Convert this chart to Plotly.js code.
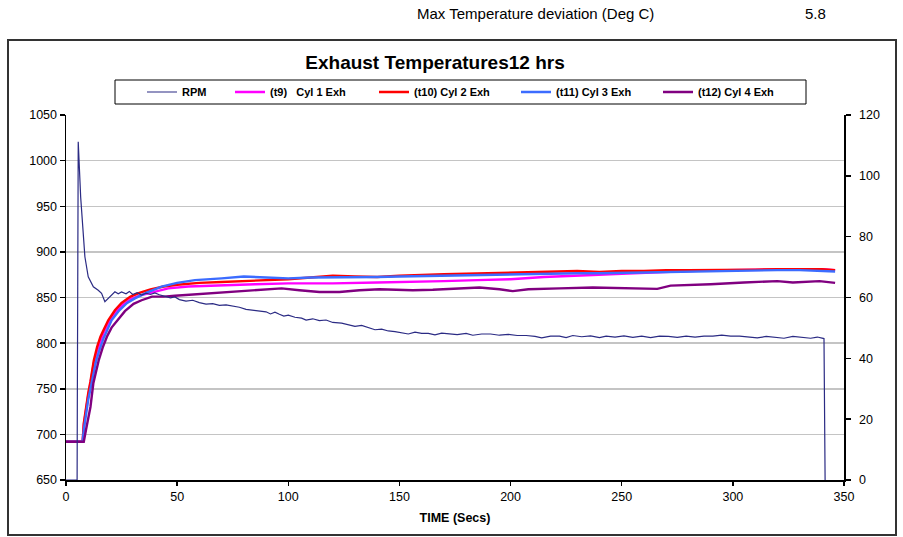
<!DOCTYPE html>
<html>
<head>
<meta charset="utf-8">
<script src="https://cdn.plot.ly/plotly-3.0.1.min.js"></script>
<style>
  html, body { margin: 0; padding: 0; background: #fff; }
  #chart { width: 903px; height: 537px; }
</style>
</head>
<body>
<div id="chart"></div>
<script>
// Engine speed (right axis, 0-120 scale)
const timeRpm = [0, 5, 5.1, 5.5, 6.6, 7.5, 8.5, 10, 12.3, 14.5, 16, 17.5, 19.8, 22, 23.5, 25, 27, 28.5, 30, 32, 34, 36, 38, 40, 42, 44, 47, 49, 51, 54, 57, 60, 63, 66, 69, 72, 75, 78, 81,
  84, 87, 90, 92, 94, 96, 98, 100, 103, 106, 108, 111, 114, 117, 120, 124, 127, 130, 133, 136, 139, 142, 145, 148, 151, 154, 157, 160, 163, 166, 169, 172, 176, 180, 183, 187, 191, 195, 199, 203, 207, 211, 214, 218,
  222, 225, 228, 232, 236, 240, 243, 247, 251, 255, 259, 263, 267, 271, 275, 279, 283, 287, 291, 295, 299, 303, 307, 311, 315, 319, 323, 327, 331, 335, 338, 341, 341.5];
const rpm = [0, 0, 27, 111.2, 93, 82.2, 73.4, 66.8, 63.5, 62.4, 61.4, 58.6, 60.3, 61.9, 61.2, 61.8, 61.2, 62.0, 61.0, 61.6, 60.8, 61.4, 61.0, 61.5, 60.9, 60.4, 59.9, 60.2, 59.3, 58.8, 59.1, 58.3, 57.8, 58.0, 57.4, 57.6, 57.2, 56.8, 56.1,
  55.8, 55.5, 55.3, 54.6, 55.2, 54.5, 53.9, 54.2, 53.5, 53.2, 52.6, 53.0, 52.4, 52.6, 51.8, 51.6, 51.0, 50.5, 50.8, 50.0, 49.4, 49.6, 49.0, 48.8, 48.4, 48.0, 48.6, 48.2, 48.2, 47.7, 48.3, 48.0, 47.8, 48.2, 47.6, 48.0, 48.0, 47.6, 47.9, 47.5, 47.5, 47.2, 46.7, 47.3,
  47.3, 46.8, 47.5, 47.1, 47.4, 46.8, 47.3, 47.0, 47.4, 46.9, 47.3, 46.8, 47.3, 47.2, 46.9, 47.3, 47.0, 47.3, 47.3, 47.6, 47.3, 47.3, 47.0, 46.7, 47.2, 47.0, 46.6, 47.2, 46.8, 46.6, 47.0, 46.5, 0];

// (t9) Cyl 1 exhaust temperature
const timeCyl1 = [0, 7.5, 8, 9, 10, 11, 12.5, 14, 15.5, 17, 19, 22, 25, 29, 33, 38, 46, 55, 65, 73, 85, 100, 120, 140, 160, 170, 185, 200, 215, 227, 237, 250, 267, 280, 297, 310, 327, 340, 346];
const cyl1 = [692, 692, 710, 728, 743, 756, 778, 792, 803, 812, 822, 833, 841, 848, 852, 855, 860, 862, 863, 864, 864.5, 865.5, 865.5, 866.5, 867, 868, 869, 870, 872.5, 874, 874.7, 876, 878, 879, 880, 880.5, 881, 881, 880];

// (t10) Cyl 2 exhaust temperature
const timeCyl2 = [0, 7.5, 8, 9, 10, 11, 12.5, 14, 15.5, 17, 19, 22, 25, 29, 33, 38, 44, 50, 60, 70, 80, 90, 100, 110, 120, 130, 140, 150, 160, 170, 180, 190, 200, 210, 220, 230, 240, 250, 260, 270, 280, 290, 300, 310, 320, 330, 340, 346];
const cyl2 = [692, 692, 712, 730, 745, 758, 781, 796, 807, 815, 825, 836, 844, 851, 855, 859, 862, 864, 866, 867, 868, 869, 870, 872, 874, 873, 872.5, 874, 875, 875.5, 876, 876.5, 877.5, 878, 878.5, 879, 878, 879, 879, 880, 880, 880, 880, 880.5, 881, 881, 881, 880];

// (t11) Cyl 3 exhaust temperature
const timeCyl3 = [0, 7.5, 8, 9, 10, 11, 12, 13.5, 15, 17, 20.5, 24, 27.5, 31, 36, 43, 50, 58, 70, 80, 90, 100, 110, 120, 130, 140, 150, 160, 170, 180, 190, 200, 210, 220, 230, 240, 250, 260, 270, 280, 290, 300, 310, 320, 330, 340, 346];
const cyl3 = [692, 692, 705, 722, 738, 750, 762, 780, 792, 806, 825, 836, 844, 849, 855, 862, 866, 869, 871, 873, 872, 871, 872, 872, 872, 872.5, 873, 873.5, 874, 874.5, 875, 875.5, 876, 876.5, 876.5, 876.5, 877, 877.5, 878, 878.5, 879, 879.5, 879.5, 880, 880, 879.5, 878.5];

// (t12) Cyl 4 exhaust temperature
const timeCyl4 = [0, 8, 9, 10, 11, 12.3, 13.5, 14.7, 16.5, 18.4, 20.5, 23, 26.5, 30.4, 34, 38.7, 44, 49, 55, 62.5, 72, 82, 90, 97, 105, 114, 123, 132, 141, 150, 156, 165, 171, 186, 195, 201, 208, 216, 222, 237, 252, 266, 272, 280, 290, 305, 320, 327, 339, 346];
const cyl4 = [692, 692, 705, 718, 730, 756, 770, 781, 795, 807, 817, 825, 835, 843, 847, 851, 851, 852, 853, 854.6, 856.5, 858, 859, 860, 858, 856, 856, 858, 859, 858.5, 858, 858.5, 859, 861, 859, 857, 859, 860, 860, 861, 860, 859.5, 863, 863.5, 864.5, 866.5, 868, 866.5, 868, 866];

const seriesNames = ['RPM', '(t9)\u00a0\u00a0\u00a0Cyl 1 Exh', '(t10) Cyl 2 Exh', '(t11) Cyl 3 Exh', '(t12) Cyl 4 Exh'];
const xTitle = 'TIME (Secs)';
const chartTitle = 'Exhaust Temperatures12 hrs';
const noteLabel = 'Max Temperature deviation (Deg C)';
const noteValue = '5.8';

// Plot area in page pixels
const W = 903, H = 537;
const PL = 66, PR = 844, PT = 115, PB = 480;
const px = x => (x - PL) / (PR - PL);
const py = y => (PB - y) / (PB - PT);

const FONT = 'Liberation Sans, Arial, sans-serif';

const traces = [
  { x: timeRpm, y: rpm, name: seriesNames[0], yaxis: 'y2', mode: 'lines',
    line: { color: '#2B2B84', width: 1.2 }, legendwidth: 43 },
  { x: timeCyl1, y: cyl1, name: seriesNames[1], mode: 'lines',
    line: { color: '#FF00FF', width: 2.4 }, legendwidth: 99 },
  { x: timeCyl2, y: cyl2, name: seriesNames[2], mode: 'lines',
    line: { color: '#FF0000', width: 2.4 }, legendwidth: 97 },
  { x: timeCyl3, y: cyl3, name: seriesNames[3], mode: 'lines',
    line: { color: '#3C6CFF', width: 2.4 }, legendwidth: 97 },
  { x: timeCyl4, y: cyl4, name: seriesNames[4], mode: 'lines',
    line: { color: '#800080', width: 2.4 }, legendwidth: 97 }
];

const axisFont = { family: FONT, size: 12.5, color: '#000' };

const layout = {
  width: W, height: H,
  margin: { l: PL, r: W - PR, t: PT, b: H - PB, pad: 0 },
  paper_bgcolor: '#fff', plot_bgcolor: '#fff',
  showlegend: true,
  title: { text: chartTitle, font: { family: FONT, size: 19, weight: 'bold', color: '#000' },
    x: px(435), xref: 'paper', xanchor: 'center', y: 1 - 62 / H, yref: 'container', yanchor: 'middle' },
  xaxis: {
    range: [0, 350], dtick: 50, tick0: 0, showgrid: false, zeroline: false,
    showline: true, linecolor: '#000', linewidth: 1.5,
    ticks: 'outside', ticklen: 4, tickwidth: 1.5, tickcolor: '#000',
    tickfont: axisFont,
    title: { text: xTitle, font: { family: FONT, size: 12.5, weight: 'bold', color: '#000' }, standoff: 10 }
  },
  yaxis: {
    range: [650, 1050], dtick: 50, tick0: 650, zeroline: false,
    showgrid: true, gridcolor: '#c4c4c4', gridwidth: 1.5,
    showline: true, linecolor: '#000', linewidth: 1.5,
    ticks: 'outside', ticklen: 5, tickwidth: 1.5, tickcolor: '#000',
    tickfont: axisFont
  },
  yaxis2: {
    range: [0, 120], dtick: 20, tick0: 0, overlaying: 'y', side: 'right',
    showgrid: false, zeroline: false,
    showline: true, linecolor: '#000', linewidth: 1.5,
    ticks: 'outside', ticklen: 5, tickwidth: 1.5, tickcolor: '#000',
    ticklabelstandoff: 6,
    tickfont: axisFont
  },
  legend: {
    orientation: 'h', x: px(142), xanchor: 'left', y: py(92), yanchor: 'middle',
    bgcolor: 'rgba(0,0,0,0)', borderwidth: 0,
    font: { family: FONT, size: 11, weight: 'bold', color: '#000' },
    itemwidth: 30
  },
  shapes: [
    // outer chart frame
    { type: 'rect', xref: 'paper', yref: 'paper', x0: px(8), x1: px(896), y0: py(535), y1: py(40),
      line: { color: '#333', width: 2 }, fillcolor: 'rgba(0,0,0,0)', layer: 'below' },
    // legend box
    { type: 'rect', xref: 'paper', yref: 'paper', x0: px(115), x1: px(806), y0: py(104), y1: py(80),
      line: { color: '#000', width: 1 }, fillcolor: 'rgba(0,0,0,0)', layer: 'above' }
  ],
  annotations: [
    { text: noteLabel, xref: 'paper', yref: 'paper', x: px(415), y: py(14), xanchor: 'left', yanchor: 'middle',
      showarrow: false, font: { family: FONT, size: 15, color: '#000' } },
    { text: noteValue, xref: 'paper', yref: 'paper', x: px(815), y: py(14), xanchor: 'center', yanchor: 'middle',
      showarrow: false, font: { family: FONT, size: 15, color: '#000' } }
  ]
};

Plotly.newPlot('chart', traces, layout, { displayModeBar: false, staticPlot: true });
</script>
</body>
</html>
